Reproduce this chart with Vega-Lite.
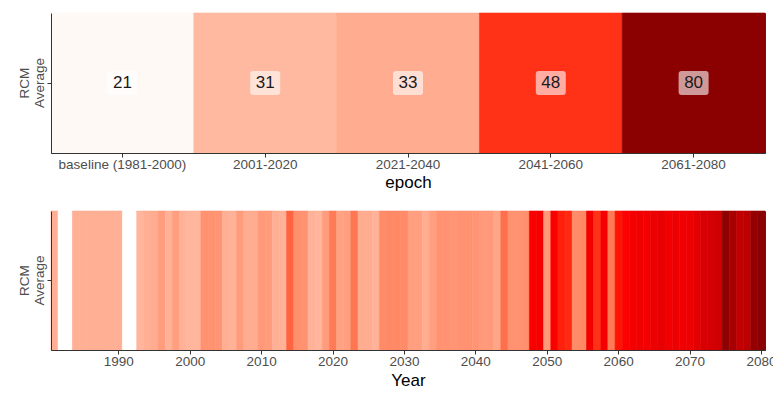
{
  "$schema": "https://vega.github.io/schema/vega-lite/v6.json",
  "background": "white",
  "padding": {"left": 16, "top": 12, "right": 0, "bottom": 0},
  "bounds": "flush",
  "spacing": 58,
  "resolve": {"scale": {"color": "independent", "stroke": "independent"}},
  "config": {
    "font": "Liberation Sans",
    "view": {"stroke": "#333333", "strokeWidth": 1},
    "axis": {
      "domainColor": "#333333",
      "tickColor": "#333333",
      "tickSize": 4,
      "labelColor": "#4D4D4D",
      "labelFontSize": 13.5,
      "labelFont": "Liberation Sans",
      "titleColor": "#000000",
      "titleFontSize": 17,
      "titleFontWeight": "normal",
      "titleFont": "Liberation Sans",
      "grid": false
    }
  },
  "datasets": {
    "epochs": [
      {"model": "RCM Average", "epoch": "baseline (1981-2000)", "avg": 21},
      {"model": "RCM Average", "epoch": "2001-2020", "avg": 31},
      {"model": "RCM Average", "epoch": "2021-2040", "avg": 33},
      {"model": "RCM Average", "epoch": "2041-2060", "avg": 48},
      {"model": "RCM Average", "epoch": "2061-2080", "avg": 80}
    ],
    "years": [
      {"model": "RCM Average", "Year": 1981, "value": 26},
      {"model": "RCM Average", "Year": 1982, "value": 0},
      {"model": "RCM Average", "Year": 1983, "value": 0},
      {"model": "RCM Average", "Year": 1984, "value": 26},
      {"model": "RCM Average", "Year": 1985, "value": 26},
      {"model": "RCM Average", "Year": 1986, "value": 26},
      {"model": "RCM Average", "Year": 1987, "value": 26},
      {"model": "RCM Average", "Year": 1988, "value": 26},
      {"model": "RCM Average", "Year": 1989, "value": 26},
      {"model": "RCM Average", "Year": 1990, "value": 26},
      {"model": "RCM Average", "Year": 1991, "value": 0},
      {"model": "RCM Average", "Year": 1992, "value": 0},
      {"model": "RCM Average", "Year": 1993, "value": 24},
      {"model": "RCM Average", "Year": 1994, "value": 26},
      {"model": "RCM Average", "Year": 1995, "value": 27},
      {"model": "RCM Average", "Year": 1996, "value": 32},
      {"model": "RCM Average", "Year": 1997, "value": 25},
      {"model": "RCM Average", "Year": 1998, "value": 31},
      {"model": "RCM Average", "Year": 1999, "value": 25},
      {"model": "RCM Average", "Year": 2000, "value": 24},
      {"model": "RCM Average", "Year": 2001, "value": 24},
      {"model": "RCM Average", "Year": 2002, "value": 35},
      {"model": "RCM Average", "Year": 2003, "value": 35},
      {"model": "RCM Average", "Year": 2004, "value": 34},
      {"model": "RCM Average", "Year": 2005, "value": 26},
      {"model": "RCM Average", "Year": 2006, "value": 25},
      {"model": "RCM Average", "Year": 2007, "value": 32},
      {"model": "RCM Average", "Year": 2008, "value": 27},
      {"model": "RCM Average", "Year": 2009, "value": 27},
      {"model": "RCM Average", "Year": 2010, "value": 33},
      {"model": "RCM Average", "Year": 2011, "value": 32},
      {"model": "RCM Average", "Year": 2012, "value": 26},
      {"model": "RCM Average", "Year": 2013, "value": 25},
      {"model": "RCM Average", "Year": 2014, "value": 48},
      {"model": "RCM Average", "Year": 2015, "value": 36},
      {"model": "RCM Average", "Year": 2016, "value": 35},
      {"model": "RCM Average", "Year": 2017, "value": 25},
      {"model": "RCM Average", "Year": 2018, "value": 24},
      {"model": "RCM Average", "Year": 2019, "value": 32},
      {"model": "RCM Average", "Year": 2020, "value": 42},
      {"model": "RCM Average", "Year": 2021, "value": 30},
      {"model": "RCM Average", "Year": 2022, "value": 31},
      {"model": "RCM Average", "Year": 2023, "value": 43},
      {"model": "RCM Average", "Year": 2024, "value": 27},
      {"model": "RCM Average", "Year": 2025, "value": 27},
      {"model": "RCM Average", "Year": 2026, "value": 25},
      {"model": "RCM Average", "Year": 2027, "value": 37},
      {"model": "RCM Average", "Year": 2028, "value": 38},
      {"model": "RCM Average", "Year": 2029, "value": 38},
      {"model": "RCM Average", "Year": 2030, "value": 37},
      {"model": "RCM Average", "Year": 2031, "value": 31},
      {"model": "RCM Average", "Year": 2032, "value": 31},
      {"model": "RCM Average", "Year": 2033, "value": 27},
      {"model": "RCM Average", "Year": 2034, "value": 31},
      {"model": "RCM Average", "Year": 2035, "value": 35},
      {"model": "RCM Average", "Year": 2036, "value": 35},
      {"model": "RCM Average", "Year": 2037, "value": 34},
      {"model": "RCM Average", "Year": 2038, "value": 35},
      {"model": "RCM Average", "Year": 2039, "value": 35},
      {"model": "RCM Average", "Year": 2040, "value": 34},
      {"model": "RCM Average", "Year": 2041, "value": 33},
      {"model": "RCM Average", "Year": 2042, "value": 33},
      {"model": "RCM Average", "Year": 2043, "value": 29},
      {"model": "RCM Average", "Year": 2044, "value": 45},
      {"model": "RCM Average", "Year": 2045, "value": 35},
      {"model": "RCM Average", "Year": 2046, "value": 35},
      {"model": "RCM Average", "Year": 2047, "value": 36},
      {"model": "RCM Average", "Year": 2048, "value": 64},
      {"model": "RCM Average", "Year": 2049, "value": 66},
      {"model": "RCM Average", "Year": 2050, "value": 33},
      {"model": "RCM Average", "Year": 2051, "value": 64},
      {"model": "RCM Average", "Year": 2052, "value": 60},
      {"model": "RCM Average", "Year": 2053, "value": 59},
      {"model": "RCM Average", "Year": 2054, "value": 37},
      {"model": "RCM Average", "Year": 2055, "value": 38},
      {"model": "RCM Average", "Year": 2056, "value": 66},
      {"model": "RCM Average", "Year": 2057, "value": 58},
      {"model": "RCM Average", "Year": 2058, "value": 66},
      {"model": "RCM Average", "Year": 2059, "value": 42},
      {"model": "RCM Average", "Year": 2060, "value": 61},
      {"model": "RCM Average", "Year": 2061, "value": 63},
      {"model": "RCM Average", "Year": 2062, "value": 66},
      {"model": "RCM Average", "Year": 2063, "value": 68},
      {"model": "RCM Average", "Year": 2064, "value": 66},
      {"model": "RCM Average", "Year": 2065, "value": 70},
      {"model": "RCM Average", "Year": 2066, "value": 72},
      {"model": "RCM Average", "Year": 2067, "value": 68},
      {"model": "RCM Average", "Year": 2068, "value": 70},
      {"model": "RCM Average", "Year": 2069, "value": 68},
      {"model": "RCM Average", "Year": 2070, "value": 70},
      {"model": "RCM Average", "Year": 2071, "value": 74},
      {"model": "RCM Average", "Year": 2072, "value": 78},
      {"model": "RCM Average", "Year": 2073, "value": 80},
      {"model": "RCM Average", "Year": 2074, "value": 82},
      {"model": "RCM Average", "Year": 2075, "value": 110},
      {"model": "RCM Average", "Year": 2076, "value": 100},
      {"model": "RCM Average", "Year": 2077, "value": 88},
      {"model": "RCM Average", "Year": 2078, "value": 90},
      {"model": "RCM Average", "Year": 2079, "value": 108},
      {"model": "RCM Average", "Year": 2080, "value": 112}
    ]
  },
  "vconcat": [
    {
      "width": 714,
      "height": 140,
      "data": {"name": "epochs"},
      "encoding": {
        "x": {
          "field": "epoch",
          "type": "ordinal",
          "sort": null,
          "scale": {"paddingInner": 0, "paddingOuter": 0},
          "axis": {"labelAngle": 0, "title": "epoch", "titlePadding": 4, "labelPadding": 0}
        },
        "y": {
          "field": "model",
          "type": "nominal",
          "scale": {"paddingInner": 0, "paddingOuter": 0},
          "axis": {
            "title": null,
            "labelExpr": "['RCM', 'Average']",
            "labelAngle": -90,
            "labelAlign": "center",
            "labelBaseline": "bottom",
            "labelLineHeight": 15,
            "labelFontSize": 13.5,
            "labelPadding": 16
          }
        }
      },
      "layer": [
        {
          "mark": {"type": "rect", "strokeWidth": 0.6},
          "encoding": {
            "color": {
              "field": "avg",
              "type": "quantitative",
              "scale": {"domain": [20, 50, 80], "range": ["white", "red", "darkred"], "interpolate": "lab", "nice": false, "zero": false},
              "legend": null
            },
            "stroke": {
              "field": "avg",
              "type": "quantitative",
              "scale": {"domain": [20, 50, 80], "range": ["white", "red", "darkred"], "interpolate": "lab", "nice": false, "zero": false},
              "legend": null
            }
          }
        },
        {
          "mark": {
            "type": "point",
            "shape": "M -1.2 -1.2 L 1.2 -1.2 Q 1.5 -1.2 1.5 -0.9 L 1.5 0.9 Q 1.5 1.2 1.2 1.2 L -1.2 1.2 Q -1.5 1.2 -1.5 0.9 L -1.5 -0.9 Q -1.5 -1.2 -1.2 -1.2 Z",
            "size": 400,
            "filled": true,
            "fill": "white",
            "fillOpacity": 0.6,
            "strokeWidth": 0
          }
        },
        {
          "mark": {"type": "text", "fontSize": 17, "color": "#1a1a1a", "font": "Liberation Sans"},
          "encoding": {"text": {"field": "avg", "type": "quantitative"}}
        }
      ]
    },
    {
      "width": 714,
      "height": 139,
      "data": {"name": "years"},
      "mark": {"type": "rect", "strokeWidth": 0.6},
      "encoding": {
        "x": {
          "field": "Year",
          "type": "ordinal",
          "scale": {"paddingInner": 0, "paddingOuter": 0},
          "axis": {
            "values": [1990, 2000, 2010, 2020, 2030, 2040, 2050, 2060, 2070, 2080],
            "labelAngle": 0,
            "title": "Year",
            "titlePadding": 5,
            "labelPadding": 0
          }
        },
        "y": {
          "field": "model",
          "type": "nominal",
          "scale": {"paddingInner": 0, "paddingOuter": 0},
          "axis": {
            "title": null,
            "labelExpr": "['RCM', 'Average']",
            "labelAngle": -90,
            "labelAlign": "center",
            "labelBaseline": "bottom",
            "labelLineHeight": 15,
            "labelFontSize": 13.5,
            "labelPadding": 16
          }
        },
        "color": {
          "field": "value",
          "type": "quantitative",
          "scale": {"domain": [0, 62, 112], "range": ["white", "red", "darkred"], "interpolate": "lab", "nice": false, "zero": false},
          "legend": null
        },
        "stroke": {
          "field": "value",
          "type": "quantitative",
          "scale": {"domain": [0, 62, 112], "range": ["white", "red", "darkred"], "interpolate": "lab", "nice": false, "zero": false},
          "legend": null
        }
      }
    }
  ]
}
